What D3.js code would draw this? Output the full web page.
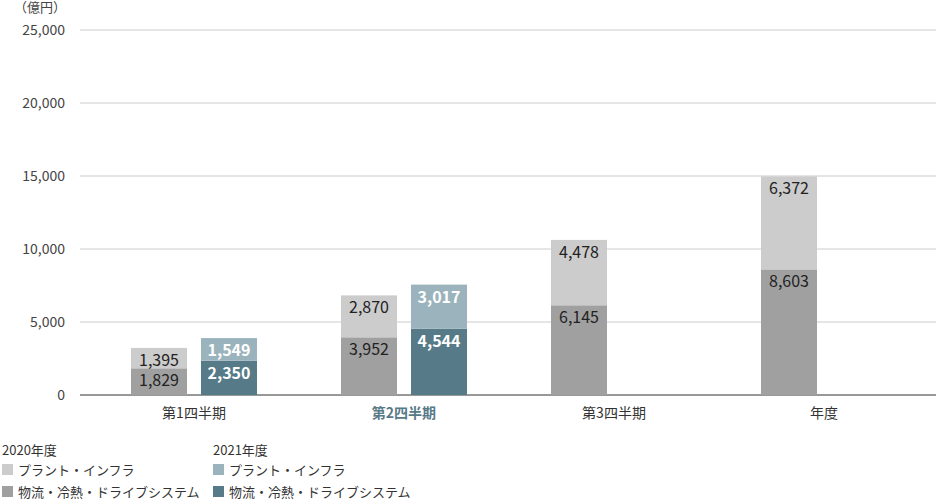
<!DOCTYPE html><html><head><meta charset="utf-8"><script src="https://cdn.jsdelivr.net/npm/d3@7"></script>
<style>body{margin:0;background:#fff}text{font-family:"Noto Sans CJK JP","Noto Sans",sans-serif}</style></head><body>
<svg id="c" width="936" height="500"></svg>
<script>
const categories=["第1四半期","第2四半期","第3四半期","年度"];
const logistics2020=[1829,3952,6145,8603];
const plant2020=[1395,2870,4478,6372];
const logistics2021=[2350,4544,null,null];
const plant2021=[1549,3017,null,null];
const yTicks=[0,5000,10000,15000,20000,25000];
const svg=d3.select("#c");
const y=d3.scaleLinear().domain([0,25000]).range([395,30]);
const x=d3.scaleBand().domain(categories).range([89,929]);
const sub=d3.scaleBand().domain(["2020","2021"]).range([0,x.bandwidth()]).paddingInner(0.2).paddingOuter(0.6);
const fmt=d3.format(",");
const ax=svg.append("g").attr("transform","translate(80,0)").call(d3.axisLeft(y).tickValues(yTicks).tickSize(0).tickFormat(fmt));
ax.select(".domain").remove();
ax.selectAll("text").attr("x",-15).attr("fill","#444").style("font-size","14px");
svg.append("g").selectAll("line").data(yTicks).join("line").attr("x1",80).attr("x2",936)
 .attr("y1",function(v){return y(v);}).attr("y2",function(v){return y(v);}).attr("stroke",function(v){return v===0?"#333":"#ccc";});
svg.append("text").attr("x",14).attr("y",12).text("（億円）").attr("fill","#444").style("font-size","13px");
const series=[["2020",logistics2020,plant2020,"#a0a0a0","#cccccc","#222",400],["2021",logistics2021,plant2021,"#577a88","#9bb3bd","#fff",700]];
series.forEach(function(s){
 const k=s[0],lo=s[1],pl=s[2],c1=s[3],c2=s[4],tc=s[5],fw=s[6];
 categories.forEach(function(cat,i){
  if(lo[i]==null)return;
  const bx=x(cat)+sub(k),w=sub.bandwidth();
  svg.append("rect").attr("x",bx).attr("width",w).attr("y",y(lo[i])).attr("height",y(0)-y(lo[i])).attr("fill",c1);
  svg.append("rect").attr("x",bx).attr("width",w).attr("y",y(lo[i]+pl[i])).attr("height",y(lo[i])-y(lo[i]+pl[i])).attr("fill",c2);
  svg.append("text").attr("x",bx+w/2).attr("y",y(lo[i])+18).attr("text-anchor","middle").attr("fill",tc).attr("font-weight",fw).style("font-size","16px").text(fmt(lo[i]));
  svg.append("text").attr("x",bx+w/2).attr("y",y(lo[i]+pl[i])+18).attr("text-anchor","middle").attr("fill",tc).attr("font-weight",fw).style("font-size","16px").text(fmt(pl[i]));
 });
});
categories.forEach(function(cat,i){
 svg.append("text").attr("x",x(cat)+x.bandwidth()/2).attr("y",418).attr("text-anchor","middle")
  .attr("fill",i===1?"#577a88":"#333").attr("font-weight",i===1?700:400).style("font-size","14px").text(cat);
});
const legend=[[2,"2020年度",[["#cccccc","プラント・インフラ"],["#a0a0a0","物流・冷熱・ドライブシステム"]]],[213,"2021年度",[["#9bb3bd","プラント・インフラ"],["#577a88","物流・冷熱・ドライブシステム"]]]];
legend.forEach(function(L){
 const lx=L[0];
 svg.append("text").attr("x",lx).attr("y",455).text(L[1]).attr("fill","#333").style("font-size","13px");
 L[2].forEach(function(it,j){
  svg.append("rect").attr("x",lx).attr("y",464+j*22).attr("width",11).attr("height",11).attr("fill",it[0]);
  svg.append("text").attr("x",lx+16).attr("y",475+j*22).text(it[1]).attr("fill","#333").style("font-size","13px");
 });
});
</script></body></html>
